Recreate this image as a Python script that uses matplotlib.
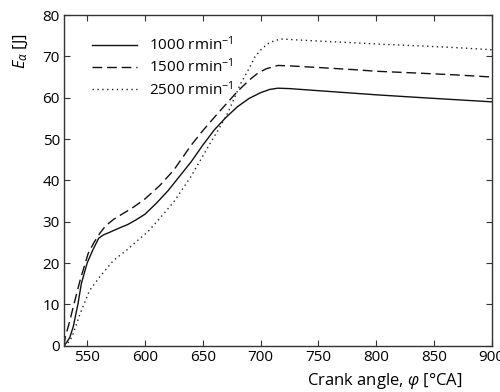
import matplotlib
matplotlib.use("Agg")
import matplotlib.pyplot as plt

plt.rcParams['font.family'] = ['Open Sans', 'DejaVu Sans']
plt.rcParams['mathtext.fontset'] = 'custom'
plt.rcParams['mathtext.rm'] = 'Open Sans'
plt.rcParams['mathtext.it'] = 'Open Sans:italic'

# 1000 rpm
x1000 = [530, 532, 535, 538, 542, 545, 550, 555, 560, 564, 570, 578, 585, 592, 600, 610, 620, 630, 640, 650, 660, 670, 680, 690, 700, 708, 715, 725, 750, 780, 800, 840, 870, 900]
y1000 = [0, 0.7, 2.0, 4.6, 10.0, 15.0, 20.0, 23.2, 26.0, 26.8, 27.5, 28.5, 29.3, 30.4, 31.8, 34.5, 37.5, 41.0, 44.5, 48.5, 52.2, 55.2, 57.8, 59.8, 61.2, 62.0, 62.3, 62.2, 61.7, 61.1, 60.7, 60.0, 59.5, 59.0]
# 1500 rpm
x1500 = [530, 531, 535, 538, 544, 551, 556, 561, 566, 573, 580, 590, 600, 613, 625, 640, 650, 663, 672, 680, 690, 698, 705, 715, 725, 750, 780, 800, 840, 870, 900]
y1500 = [0, 2.0, 6.0, 9.4, 15.9, 22.4, 25.0, 27.2, 29.0, 30.6, 31.8, 33.5, 35.5, 38.8, 42.5, 48.5, 52.0, 56.2, 59.0, 61.5, 64.2, 66.0, 67.0, 67.8, 67.7, 67.3, 66.8, 66.4, 65.9, 65.5, 65.0]
# 2500 rpm
x2500 = [530, 533, 537, 544, 552, 561, 573, 585, 595, 602, 614, 625, 640, 654, 664, 672, 683, 690, 695, 700, 706, 712, 718, 730, 750, 780, 807, 840, 870, 900]
y2500 = [0, 0.5, 2.2, 7.8, 13.3, 16.7, 20.7, 23.3, 25.8, 27.4, 31.2, 34.8, 41.0, 47.8, 52.5, 56.5, 63.5, 67.0, 69.8, 71.5, 73.0, 73.8, 74.2, 74.0, 73.7, 73.3, 72.9, 72.5, 72.1, 71.6]

series = [
    (x1000, y1000, '1000 rmin$^{-1}$', '-', None, '#111111'),
    (x1500, y1500, '1500 rmin$^{-1}$', '--', (7, 3.5), '#111111'),
    (x2500, y2500, '2500 rmin$^{-1}$', ':', (1, 2.5), '#222222'),
]

fig = plt.figure(figsize=(5.0, 3.92), dpi=100)
ax = fig.add_axes([0.128, 0.118, 0.8554, 0.8437])

for xs, ys, lab, ls, dash, col in series:
    line, = ax.plot(xs, ys, ls, color=col, lw=1.0, label=lab)
    if dash is not None:
        line.set_dashes(dash)

ax.set_xlim(530, 900)
ax.set_ylim(0, 80)
ax.set_xticks([550, 600, 650, 700, 750, 800, 850, 900])
ax.set_yticks([0, 10, 20, 30, 40, 50, 60, 70, 80])
ax.tick_params(direction='in', length=4, width=0.8, top=True, right=True,
               labelsize=11, pad=3, color='#333333')
for s in ax.spines.values():
    s.set_color('#333333')
    s.set_linewidth(1.0)

ax.set_xlabel(r'Crank angle, $\varphi$ [°CA]', fontsize=12)
ax.xaxis.set_label_coords(0.75, -0.075)
ax.set_ylabel(r'$E_{\alpha}$ [J]', fontsize=12)
ax.yaxis.set_label_coords(-0.08, 0.89)

leg = ax.legend(loc='upper left', bbox_to_anchor=(0.034, 0.98), frameon=False,
                fontsize=11, handlelength=2.95, handletextpad=0.75, labelspacing=0.25)

fig.savefig('out.png', dpi=100)
